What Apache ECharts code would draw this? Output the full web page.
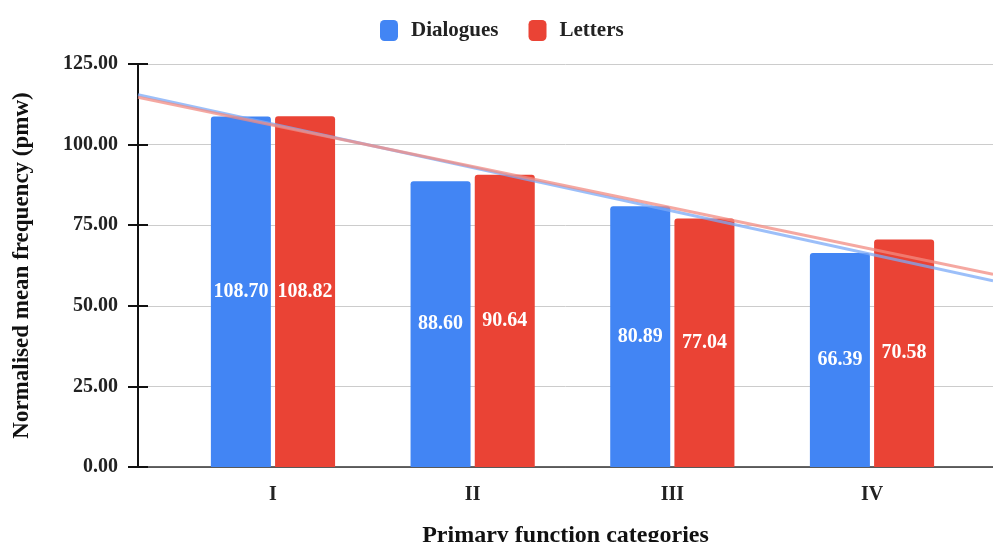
<!DOCTYPE html>
<html>
<head>
<meta charset="utf-8">
<script src="https://cdn.jsdelivr.net/npm/echarts@6/dist/echarts.min.js"></script>
<style>
  html, body { margin: 0; padding: 0; background: #fff; }
  #chart { width: 993px; height: 542px; }
</style>
</head>
<body>
<div id="chart"></div>
<script>
// Primary function categories and normalised mean frequencies (pmw)
const categories = ['I', 'II', 'III', 'IV'];
const dialogues = [108.70, 88.60, 80.89, 66.39];
const letters = [108.82, 90.64, 77.04, 70.58];
const yTicks = [0, 25, 50, 75, 100, 125];

// category positions on a numeric x scale (1..4) so the trendlines can span the plot
const xPos = categories.map((_, i) => i + 1);
const X_MIN = 0.324, X_MAX = 4.606;

// least-squares linear trendline for a series
function trend(values) {
  const n = values.length;
  const mx = xPos.reduce((a, b) => a + b, 0) / n;
  const my = values.reduce((a, b) => a + b, 0) / n;
  let sxy = 0, sxx = 0;
  for (let i = 0; i < n; i++) {
    sxy += (xPos[i] - mx) * (values[i] - my);
    sxx += (xPos[i] - mx) * (xPos[i] - mx);
  }
  const slope = sxy / sxx;
  const f = x => my + slope * (x - mx);
  return [[X_MIN, f(X_MIN)], [X_MAX, f(X_MAX)]];
}

const FONT = '"Liberation Serif", "DejaVu Serif", serif';
const BLUE = '#4285F4';
const RED = '#EA4335';

const chart = echarts.init(document.getElementById('chart'), null, { renderer: 'canvas' });

const labelStyle = {
  show: true,
  position: 'inside',
  color: '#fff',
  fontFamily: FONT,
  fontWeight: 'bold',
  fontSize: 20,
  formatter: p => p.value[1].toFixed(2)
};

chart.setOption({
  animation: false,
  backgroundColor: '#fff',
  legend: {
    data: ['Dialogues', 'Letters'],
    top: 15,
    left: 375,
    icon: 'roundRect',
    itemWidth: 18,
    itemHeight: 21,
    itemGap: 30,
    textStyle: { fontFamily: FONT, fontWeight: 'bold', fontSize: 21, color: '#222', padding: [0, 0, 0, 8] }
  },
  grid: { left: 138, right: 0, top: 64, bottom: 75, outerBoundsMode: 'none', containLabel: false },
  xAxis: {
    type: 'value',
    min: X_MIN,
    max: X_MAX,
    name: 'Primary function categories',
    nameLocation: 'middle',
    nameGap: 57,
    nameTextStyle: { fontFamily: FONT, fontWeight: 'bold', fontSize: 24, color: '#111' },
    axisLine: { show: true, onZero: false, lineStyle: { color: '#333', width: 1.5 } },
    axisTick: { show: false },
    splitLine: { show: false },
    axisLabel: {
      customValues: xPos,
      margin: 18,
      fontFamily: FONT,
      fontWeight: 'bold',
      fontSize: 20,
      color: '#222',
      formatter: v => categories[Math.round(v) - 1] || ''
    }
  },
  yAxis: [{
    type: 'value',
    min: yTicks[0],
    max: yTicks[yTicks.length - 1],
    interval: 25,
    name: 'Normalised mean frequency (pmw)',
    nameLocation: 'middle',
    nameGap: 104,
    nameTextStyle: { fontFamily: FONT, fontWeight: 'bold', fontSize: 23, color: '#111' },
    axisLine: { show: true, lineStyle: { color: '#111', width: 2 } },
    axisTick: { show: true, length: 10, lineStyle: { color: '#111', width: 2 } },
    splitLine: { show: true, lineStyle: { color: '#ccc', width: 1 } },
    axisLabel: {
      margin: 20,
      fontFamily: FONT,
      fontWeight: 'bold',
      fontSize: 20,
      color: '#222',
      formatter: v => v.toFixed(2)
    }
  }, {
    type: 'value',
    position: 'left',
    min: yTicks[0],
    max: yTicks[yTicks.length - 1],
    interval: 25,
    axisLine: { show: false },
    axisTick: { show: true, inside: true, length: 10, lineStyle: { color: '#111', width: 2 } },
    splitLine: { show: false },
    axisLabel: { show: false }
  }],
  series: [{
    name: 'Dialogues',
    type: 'bar',
    barWidth: 60,
    barGap: '7%',
    itemStyle: { color: BLUE, borderRadius: [3, 3, 0, 0] },
    label: labelStyle,
    data: dialogues.map((v, i) => [xPos[i], v])
  }, {
    name: 'Letters',
    type: 'bar',
    barWidth: 60,
    barGap: '7%',
    itemStyle: { color: RED, borderRadius: [3, 3, 0, 0] },
    label: labelStyle,
    data: letters.map((v, i) => [xPos[i], v])
  }, {
    name: 'Dialogues trend',
    type: 'line',
    silent: true,
    symbol: 'none',
    z: 5,
    lineStyle: { color: '#7baaf7', width: 3, opacity: 0.75 },
    data: trend(dialogues)
  }, {
    name: 'Letters trend',
    type: 'line',
    silent: true,
    symbol: 'none',
    z: 5,
    lineStyle: { color: '#f28b82', width: 3, opacity: 0.75 },
    data: trend(letters)
  }]
});
</script>
</body>
</html>
